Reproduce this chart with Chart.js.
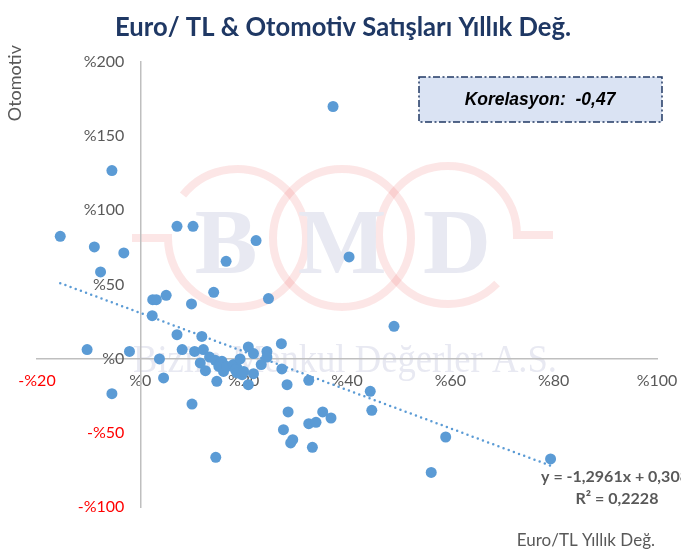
<!DOCTYPE html>
<html>
<head>
<meta charset="utf-8">
<script src="https://cdn.jsdelivr.net/npm/chart.js@4.4.0/dist/chart.umd.min.js"></script>
<style>
  body { margin: 0; background: #fff; }
  #wrap { width: 681px; height: 553px; }
</style>
</head>
<body>
<div id="wrap"><canvas id="scatter" width="681" height="553"></canvas></div>
<script>
// yearly change, percent
var euroTlChange = [-15.5, -8.9, -7.7, -3.2, -5.5, -10.3, -2.1, -5.5, 7.1, 10.2, 22.4, 16.6, 14.2, 24.8, 5.0, 2.4, 3.1, 9.9, 2.3, 7.1,
    11.9, 3.7, 8.1, 10.5, 12.2, 11.6, 12.6, 13.4, 14.5, 15.5, 15.8, 16.1, 15.2, 16.8, 18.0, 18.7, 18.4, 18.7, 19.3, 19.7,
    20.0, 20.9, 21.9, 21.9, 20.9, 23.4, 24.5, 24.5, 27.3, 27.4, 28.4, 32.6, 14.8, 4.5, 37.3, 40.4, 49.1, 44.5, 44.8, 10.0,
    28.6, 35.3, 36.9, 32.6, 34.0, 27.7, 29.5, 29.1, 33.3, 14.6, 59.1, 56.3, 79.4];
var autoSalesChange = [82.5, 75.3, 58.5, 71.3, 126.8, 6.1, 4.9, -23.6, 89.2, 89.2, 79.6, 65.6, 44.7, 40.5, 42.7, 39.8, 39.8, 36.9, 29.0, 16.2,
    15.0, -0.2, 6.1, 4.9, 6.1, -2.9, -8.1, 1.1, -1.1, -3.4, -1.8, -8.6, -5.2, -5.2, -4.0, -6.3, -7.4, -9.6, -0.2, -10.8,
    -8.6, 7.9, 3.4, -10.1, -17.5, -4.0, 4.9, 1.1, 10.1, -6.9, -17.5, -14.6, -15.3, -13.0, 170, 68.6, 21.8, -22, -34.8, -30.6,
    -35.9, -35.9, -40, -43.8, -42.9, -47.9, -54.6, -56.8, -59.8, -66.5, -52.8, -76.7, -67.6];

var xTicks = [-20, 0, 20, 40, 60, 80, 100];
var yTicks = [-100, -50, 0, 50, 100, 150, 200];

// linear trend (fractions) and correlation
var trendSlope = -1.2961;
var trendIntercept = 0.308;
var rSquared = 0.2228;
var correlation = -0.47;

var gray = "#595959";
var blue = "#5B9BD5";

function pctLabel(v) {
    return (v < 0 ? "-" : "") + "%" + Math.abs(v);
};

function trDecimal(v) {
    return String(v).replace(".", ",");
};

var points = [];
for (var i = 0; i < euroTlChange.length; i++) {
    points.push({ x: euroTlChange[i], y: autoSalesChange[i] });
};

var xMin = Math.min.apply(null, euroTlChange);
var xMax = Math.max.apply(null, euroTlChange);
var trendPoints = [
    { x: xMin, y: trendSlope * xMin + trendIntercept * 100 },
    { x: xMax, y: trendSlope * xMax + trendIntercept * 100 }
];

// fits text into a given width by squeezing it horizontally
function fitText(ctx, text, x, y, maxWidth) {
    var w = ctx.measureText(text).width;
    var k = w > maxWidth ? maxWidth / w : 1;
    ctx.save();
    ctx.translate(x, y);
    ctx.scale(k, 1);
    ctx.fillText(text, 0, 0);
    ctx.restore();
};

var watermark = {
    id: "watermark",
    beforeDraw: function (chart) {
        var ctx = chart.ctx;
        ctx.save();

        // rings
        ctx.strokeStyle = "rgba(232, 60, 60, 0.13)";
        ctx.lineWidth = 8;
        ctx.beginPath();
        ctx.arc(237, 238, 69, -2.47, Math.PI);
        ctx.lineTo(132, 238);
        ctx.stroke();
        ctx.beginPath();
        ctx.arc(342, 238, 69, 0, Math.PI * 2);
        ctx.stroke();
        ctx.beginPath();
        ctx.arc(448, 235, 69, 0.78, Math.PI * 2);
        ctx.lineTo(553, 235);
        ctx.stroke();

        // letters
        ctx.fillStyle = "#E8E9F2";
        ctx.font = "bold 94px 'Liberation Serif'";
        ctx.textAlign = "center";
        ctx.textBaseline = "alphabetic";
        ctx.fillText("B", 226, 273);
        ctx.fillText("M", 342, 273);
        ctx.fillText("D", 457, 273);

        ctx.font = "40px 'Liberation Serif'";
        ctx.textAlign = "left";
        fitText(ctx, "Bizim Menkul Değerler A.S.", 133, 372, 424);
        ctx.restore();
    }
};

var labels = {
    id: "labels",
    afterDraw: function (chart) {
        var ctx = chart.ctx;
        ctx.save();

        // title
        ctx.fillStyle = "#1F3864";
        ctx.font = "bold 26px Lato";
        ctx.textAlign = "left";
        ctx.textBaseline = "alphabetic";
        fitText(ctx, "Euro/ TL & Otomotiv Satışları Yıllık Değ.", 115, 36, 456);

        // axis titles
        ctx.fillStyle = gray;
        ctx.font = "18px Lato";
        ctx.textAlign = "right";
        ctx.textBaseline = "middle";
        ctx.save();
        ctx.translate(15, 45);
        ctx.rotate(-Math.PI / 2);
        ctx.fillText("Otomotiv", 0, 0);
        ctx.restore();
        ctx.font = "17px Lato";
        ctx.fillText("Euro/TL Yıllık Değ.", 655, 541);

        // trend equation
        ctx.font = "bold 16px Lato";
        ctx.textAlign = "center";
        ctx.fillText("y = " + trDecimal(trendSlope) + "x + " + trDecimal(trendIntercept), 615, 477);
        ctx.fillText("R² = " + trDecimal(rSquared), 617, 499);

        // correlation box
        ctx.fillStyle = "#DAE3F3";
        ctx.fillRect(419, 77, 243, 45);
        ctx.strokeStyle = "#203864";
        ctx.lineWidth = 1.5;
        ctx.setLineDash([7, 2.5, 2, 2.5]);
        ctx.strokeRect(419, 77, 243, 45);
        ctx.setLineDash([]);
        ctx.fillStyle = "#000";
        ctx.font = "italic bold 17.5px 'Liberation Sans'";
        ctx.fillText("Korelasyon:  " + trDecimal(correlation), 540, 100);
        ctx.restore();
    }
};

var tickColor = function (c) {
    return c.tick && c.tick.value < 0 ? "#FF0000" : gray;
};

// axes sit inside the plot, so they must not take layout space
function noWidth(scale) { scale.width = 0; };
function noHeight(scale) {
    scale.height = 0;
    scale.paddingLeft = 0;
    scale.paddingRight = 0;
};

var ctx = document.getElementById("scatter").getContext("2d");
new Chart(ctx, {
    type: "scatter",
    data: {
        datasets: [{
            data: points,
            backgroundColor: blue,
            borderWidth: 0,
            pointRadius: 5.5,
            pointHoverRadius: 5.5
        }, {
            type: "line",
            data: trendPoints,
            borderColor: blue,
            borderWidth: 2.5,
            borderDash: [0, 5.5],
            borderCapStyle: "round",
            pointRadius: 0,
            fill: false
        }]
    },
    options: {
        responsive: false,
        animation: false,
        devicePixelRatio: 1,
        layout: { padding: { left: 37, right: 24, top: 62, bottom: 46 } },
        plugins: { legend: { display: false }, tooltip: { enabled: false } },
        scales: {
            x: {
                type: "linear",
                position: { y: 0 },
                min: -20,
                max: 100,
                afterBuildTicks: function (axis) {
                    axis.ticks = xTicks.map(function (v) { return { value: v }; });
                },
                afterFit: noHeight,
                grid: { display: false, drawTicks: false },
                border: { color: "#BFBFBF", width: 1.5 },
                ticks: {
                    padding: 13,
                    maxRotation: 0,
                    autoSkip: false,
                    color: tickColor,
                    font: { family: "Lato", size: 16 },
                    callback: pctLabel
                }
            },
            y: {
                type: "linear",
                position: { x: 0 },
                min: -100,
                max: 200,
                afterFit: noWidth,
                grid: { display: false, drawTicks: false },
                border: { color: "#BFBFBF", width: 1.5 },
                ticks: { display: false }
            },
            // tick labels for y, set a little left of the zero line
            yLabels: {
                axis: "y",
                type: "linear",
                position: { x: -3.1 },
                min: -100,
                max: 200,
                afterBuildTicks: function (axis) {
                    axis.ticks = yTicks.map(function (v) { return { value: v }; });
                },
                afterFit: noWidth,
                grid: { display: false, drawTicks: false },
                border: { display: false },
                ticks: {
                    autoSkip: false,
                    color: tickColor,
                    font: { family: "Lato", size: 16 },
                    callback: pctLabel
                }
            }
        }
    },
    plugins: [watermark, labels]
});
</script>
</body>
</html>
